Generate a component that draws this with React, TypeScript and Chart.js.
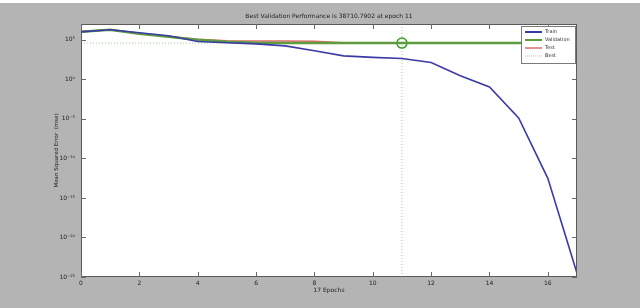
import React, { useEffect, useRef } from "react";
import { Chart, registerables } from "chart.js";

Chart.register(...registerables);

const epochs = [0, 1, 2, 3, 4, 5, 6, 7, 8, 9, 10, 11, 12, 13, 14, 15, 16, 17];
const trainPerf = [1.0e6, 1.9e6, 7.8e5, 3.2e5, 6.0e4, 4.2e4, 3.1e4, 1.7e4, 4.1e3, 9.3e2, 6.0e2, 4.3e2, 1.35e2, 2.8, 0.11, 1.3e-5, 3e-13, 3e-25];
const valPerf = [1.05e6, 1.9e6, 6.0e5, 2.5e5, 1.05e5, 5.5e4, 4.3e4, 4.0e4, 3.95e4, 3.92e4, 3.9e4, 38710.7902, 3.9e4, 3.9e4, 3.92e4, 3.92e4, 3.93e4, 3.93e4];
const testPerf = [1.1e6, 1.9e6, 6.3e5, 2.7e5, 1.15e5, 7.5e4, 7.0e4, 7.0e4, 6.6e4, 4.3e4, 4.0e4, 3.95e4, 3.95e4, 3.95e4, 3.95e4, 3.96e4, 3.96e4, 3.96e4];

const bestEpoch = 11;
const bestPerf = 38710.7902;

const xTicks = [0, 2, 4, 6, 8, 10, 12, 14, 16];
const yTickExps = [5, 0, -5, -10, -15, -20, -25];
const xMin = 0;
const xMax = 17;
const yMin = 1e-25;
const yMax = 1e7;

const titleText = "Best Validation Performance is 38710.7902 at epoch 11";
const xLabelText = "17 Epochs";
const yLabelText = "Mean Squared Error  (mse)";
const legendLabels = ["Train", "Validation", "Test", "Best"];

const TRAIN_COLOR = "#3b3ba6";
const VAL_COLOR = "#5e9c3e";
const TEST_COLOR = "#e06a6a";
const BEST_COLOR = "#9fd394";
const BG = "#b4b4b4";
const FONT = "'DejaVu Sans', 'Liberation Sans', sans-serif";

const SUP: Record<string, string> = {
  "0": "⁰", "1": "¹", "2": "²", "3": "³", "4": "⁴",
  "5": "⁵", "6": "⁶", "7": "⁷", "8": "⁸", "9": "⁹", "-": "⁻",
};
const sup = (n: number) => String(n).split("").map((c) => SUP[c] || c).join("");

const pts = (ys: number[]) => epochs.map((e, i) => ({ x: e, y: ys[i] }));

export default function App() {
  const ref = useRef<HTMLCanvasElement | null>(null);

  useEffect(() => {
    const canvas = ref.current;
    if (!canvas) return;

    const decor = {
      id: "decor",
      beforeDraw(chart: any) {
        const { ctx, chartArea: a } = chart;
        ctx.save();
        ctx.fillStyle = BG;
        ctx.fillRect(0, 0, chart.width, chart.height);
        ctx.fillStyle = "#ffffff";
        ctx.fillRect(0, 0, chart.width, 3);
        ctx.fillRect(a.left, a.top, a.right - a.left, a.bottom - a.top);
        ctx.restore();
      },
      afterDraw(chart: any) {
        const { ctx, chartArea: a, scales } = chart;
        const xs = scales.x;
        const ys = scales.y;
        ctx.save();
        // box
        ctx.strokeStyle = "#5a5a5a";
        ctx.lineWidth = 1;
        ctx.strokeRect(a.left + 0.5, a.top + 0.5, a.right - a.left - 1, a.bottom - a.top - 1);
        // ticks inward
        ctx.strokeStyle = "#6a6a6a";
        ctx.beginPath();
        xTicks.forEach((t) => {
          const px = Math.round(xs.getPixelForValue(t)) + 0.5;
          ctx.moveTo(px, a.bottom);
          ctx.lineTo(px, a.bottom - 5);
          ctx.moveTo(px, a.top);
          ctx.lineTo(px, a.top + 5);
        });
        yTickExps.forEach((e) => {
          const py = Math.round(ys.getPixelForValue(Math.pow(10, e))) + 0.5;
          ctx.moveTo(a.left, py);
          ctx.lineTo(a.left + 5, py);
          ctx.moveTo(a.right, py);
          ctx.lineTo(a.right - 5, py);
        });
        ctx.stroke();
        // title
        ctx.fillStyle = "#222";
        ctx.textAlign = "center";
        ctx.textBaseline = "middle";
        ctx.font = `6px ${FONT}`;
        ctx.fillText(titleText, (a.left + a.right) / 2, 16);
        // x label
        ctx.fillText(xLabelText, (a.left + a.right) / 2, 290);
        // y label
        ctx.save();
        ctx.font = `5.5px ${FONT}`;
        ctx.translate(57, (a.top + a.bottom) / 2);
        ctx.rotate(-Math.PI / 2);
        ctx.fillText(yLabelText, 0, 0);
        ctx.restore();
        // legend
        const lx = 521, ly = 26, lw = 54, lh = 37;
        ctx.fillStyle = "#ffffff";
        ctx.fillRect(lx, ly, lw, lh);
        ctx.strokeStyle = "#7a7a7a";
        ctx.strokeRect(lx + 0.5, ly + 0.5, lw, lh);
        const cols = [TRAIN_COLOR, VAL_COLOR, TEST_COLOR, BEST_COLOR];
        const widths = [2, 2, 1.5, 1];
        ctx.textAlign = "left";
        ctx.font = `5px ${FONT}`;
        legendLabels.forEach((lab, i) => {
          const y = ly + 6 + i * 8;
          ctx.strokeStyle = cols[i];
          ctx.lineWidth = widths[i];
          ctx.setLineDash(i === 3 ? [1, 1] : []);
          ctx.beginPath();
          ctx.moveTo(lx + 4, y);
          ctx.lineTo(lx + 21, y);
          ctx.stroke();
          ctx.setLineDash([]);
          ctx.fillStyle = "#333";
          ctx.fillText(lab, lx + 24, y);
        });
        ctx.restore();
      },
    };

    const chart = new Chart(canvas, {
      type: "line",
      data: {
        datasets: [
          { label: "Train", data: pts(trainPerf), borderColor: TRAIN_COLOR, borderWidth: 1.6, pointRadius: 0, tension: 0 },
          { label: "Validation", data: pts(valPerf), borderColor: VAL_COLOR, borderWidth: 2.5, pointRadius: 0, tension: 0 },
          { label: "Test", data: pts(testPerf), borderColor: TEST_COLOR, borderWidth: 1.5, pointRadius: 0, tension: 0 },
          {
            label: "BestCircle",
            data: [{ x: bestEpoch, y: bestPerf }],
            showLine: false,
            pointRadius: 5,
            pointBorderWidth: 1.5,
            pointBorderColor: "#3f9a2e",
            pointBackgroundColor: "rgba(0,0,0,0)",
          },
          {
            label: "Best",
            data: [{ x: xMin, y: bestPerf }, { x: xMax, y: bestPerf }],
            borderColor: BEST_COLOR,
            borderWidth: 1,
            borderDash: [1, 2],
            pointRadius: 0,
          },
          {
            label: "BestV",
            data: [{ x: bestEpoch, y: yMin }, { x: bestEpoch, y: yMax }],
            borderColor: BEST_COLOR,
            borderWidth: 1,
            borderDash: [1, 2],
            pointRadius: 0,
          },
        ],
      },
      options: {
        animation: false,
        responsive: false,
        devicePixelRatio: 1,
        layout: { padding: { left: 0, top: 24, right: 63, bottom: 0 } },
        plugins: { legend: { display: false }, title: { display: false }, tooltip: { enabled: false } },
        scales: {
          x: {
            type: "linear",
            min: xMin,
            max: xMax,
            grid: { display: false, drawTicks: false },
            border: { display: false },
            afterBuildTicks: (s: any) => {
              s.ticks = xTicks.map((v) => ({ value: v }));
            },
            afterFit: (s: any) => {
              s.height = 31;
            },
            ticks: {
              autoSkip: false,
              maxRotation: 0,
              padding: 3,
              color: "#222",
              font: { size: 6, family: FONT },
              callback: (v: any) => String(v),
            },
          },
          y: {
            type: "logarithmic",
            min: yMin,
            max: yMax,
            grid: { display: false, drawTicks: false },
            border: { display: false },
            afterBuildTicks: (s: any) => {
              s.ticks = yTickExps.map((e) => ({ value: Math.pow(10, e) }));
            },
            afterFit: (s: any) => {
              s.width = 81;
            },
            ticks: {
              autoSkip: false,
              padding: 6,
              color: "#222",
              font: { size: 6, family: FONT },
              callback: (v: any) => "10" + sup(Math.round(Math.log10(Number(v)))),
            },
          },
        },
      },
      plugins: [decor],
    } as any);

    return () => chart.destroy();
  }, []);

  return (
    <div style={{ position: "fixed", left: 0, top: 0, width: 640, height: 308 }}>
      <canvas ref={ref} width={640} height={308} style={{ display: "block" }} />
    </div>
  );
}
